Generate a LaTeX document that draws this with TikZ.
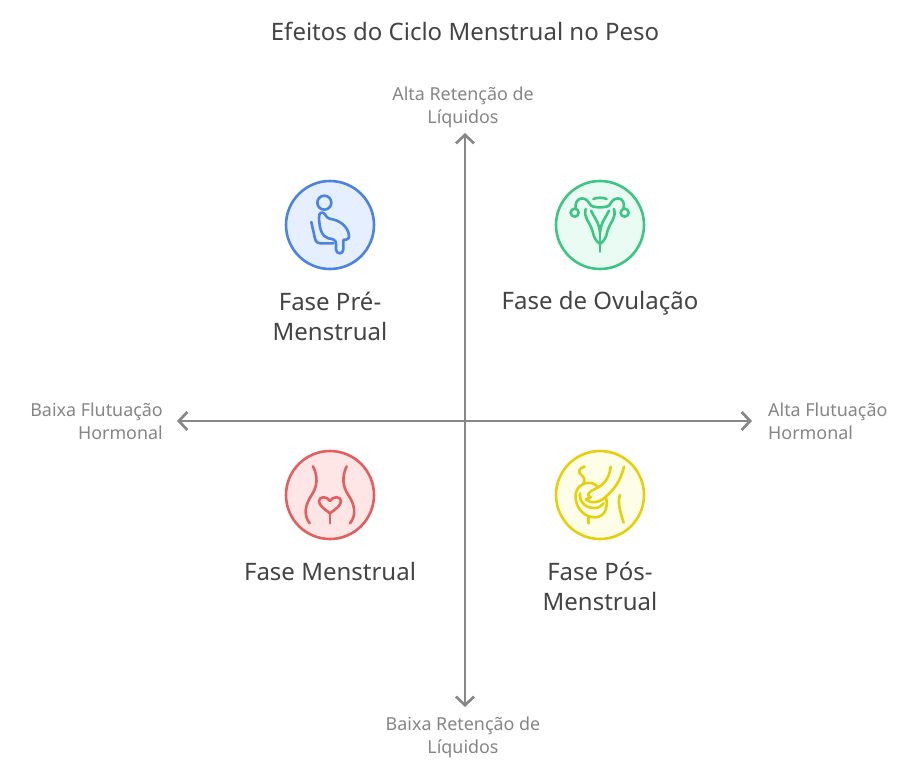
\documentclass[tikz,border=0pt]{standalone}
\usepackage{fontspec}
\setmainfont{Noto Sans}
\usetikzlibrary{arrows.meta}
\definecolor{axisc}{HTML}{888888}
\definecolor{axislab}{HTML}{868686}
\definecolor{textc}{HTML}{444444}
\definecolor{bluel}{HTML}{4A83E0}\definecolor{bluef}{HTML}{E5EFFF}
\definecolor{greenl}{HTML}{3CC583}\definecolor{greenf}{HTML}{E9FBF3}
\definecolor{redl}{HTML}{E35F5F}\definecolor{redf}{HTML}{FFE6E6}
\definecolor{yell}{HTML}{E6CF0B}\definecolor{yelf}{HTML}{FEFDE7}
\tikzset{
  axisline/.style={draw=axisc,line width=2.7pt,{Straight Barb[length=8.5pt,width=18pt,line width=2.7pt]}-{Straight Barb[length=8.5pt,width=18pt,line width=2.7pt]}},
  axislabel/.style={text=axislab,font=\fontsize{17.9}{23}\selectfont,align=center,inner sep=0pt},
  phase/.style={text=textc,font=\fontsize{24}{30}\selectfont,align=center,inner sep=0pt},
  titlelab/.style={text=textc,font=\fontsize{24}{28}\selectfont,inner sep=0pt},
  iconbg/.style={circle,minimum size=88pt,inner sep=0pt,line width=2.6pt},
  iconline/.style={line width=2.6pt,line cap=round,line join=round},
  zoomed/.style={shift={#1},x=0.3333pt,y=-0.3333pt}
}
\begin{document}
\begin{tikzpicture}[x=1pt,y=-1pt]
\useasboundingbox (0,0) rectangle (915,773);
\fill[white] (0,0) rectangle (915,773);
\node[titlelab] (title) at (465,31) {Efeitos do Ciclo Menstrual no Peso};
\coordinate (top) at (465,133);
\coordinate (bottom) at (465,707);
\coordinate (left) at (177,421);
\coordinate (right) at (752,421);
\draw[axisline] (bottom) -- (top);
\draw[axisline] (left) -- (right);
\node[axislabel] (ltop) at (463,107.5) {Alta Retenção de\\Líquidos};
\node[axislabel] (lbottom) at (463,737.5) {Baixa Retenção de\\Líquidos};
\node[axislabel,align=right,anchor=east] (lleft) at (163,421) {Baixa Flutuação\\Hormonal};
\node[axislabel,align=left,anchor=west] (lright) at (768,421) {Alta Flutuação\\Hormonal};

\node[iconbg,draw=bluel,fill=bluef] (ib) at (330,225) {};
\node[iconbg,draw=greenl,fill=greenf] (ig) at (600,225) {};
\node[iconbg,draw=redl,fill=redf] (ir) at (330,495) {};
\node[iconbg,draw=yell,fill=yelf] (iy) at (600,495) {};

\begin{scope}[zoomed={(270,170)},iconline,draw=bluel]
\draw (163,98) circle (21);
\draw (147,142) .. controls (146,126) and (160,122) .. (167,136) .. controls (172,148) and (185,146) .. (198,151) .. controls (222,160) and (238,180) .. (237,203) .. controls (236,210) and (226,208) .. (220,210) -- (220,238) .. controls (220,254) and (198,254) .. (198,238) -- (198,222) .. controls (198,210) and (190,207) .. (175,205) .. controls (155,200) and (148,175) .. (147,142) -- cycle;
\draw (124,156) -- (135,206) .. controls (138,218) and (145,220) .. (155,220) -- (190,220);
\end{scope}

\begin{scope}[zoomed={(540,170)},iconline,draw=greenl]
\draw (104,128) circle (12);
\draw (254,128) circle (12);
\draw (107,116) .. controls (103,80) and (135,78) .. (147,98) .. controls (152,110) and (162,112) .. (180,112) .. controls (198,112) and (208,110) .. (213,98) .. controls (225,78) and (257,80) .. (251,116);
\draw (160,87) .. controls (170,82) and (190,82) .. (200,87);
\draw (137,117) .. controls (130,145) and (150,155) .. (158,185) .. controls (162,205) and (170,215) .. (180,222) .. controls (190,215) and (198,205) .. (202,185) .. controls (210,155) and (230,145) .. (222,117);
\draw (153,122) .. controls (160,140) and (178,155) .. (180,190) .. controls (182,155) and (200,140) .. (207,122);
\draw (180,190) -- (180,245);
\end{scope}

\begin{scope}[zoomed={(270,440)},iconline,draw=redl]
\draw (129,79) .. controls (145,110) and (142,140) .. (125,165) .. controls (105,195) and (100,225) .. (119,250);
\draw (230,79) .. controls (215,110) and (218,140) .. (235,165) .. controls (255,195) and (260,225) .. (240,250);
\draw (180,220) .. controls (165,208) and (147,198) .. (147,183) .. controls (147,168) and (172,168) .. (180,183) .. controls (188,168) and (213,168) .. (213,183) .. controls (213,198) and (195,208) .. (180,220) -- cycle;
\draw (180,220) -- (180,250);
\end{scope}

\begin{scope}[zoomed={(540,440)},iconline,draw=yell]
\draw (134,80) .. controls (118,84) and (112,95) .. (122,103) .. controls (132,112) and (137,118) .. (130,132);
\draw (212,80) .. controls (208,115) and (192,135) .. (165,147) .. controls (150,153) and (135,165) .. (152,172) -- (138,178) .. controls (150,192) and (180,188) .. (195,172) .. controls (215,155) and (240,130) .. (252,80);
\draw (130,132) .. controls (112,140) and (105,155) .. (107,175) .. controls (110,208) and (135,232) .. (165,232) .. controls (192,232) and (206,205) .. (198,172);
\draw (130,132) .. controls (150,124) and (165,130) .. (172,140);
\draw (120,160) .. controls (118,185) and (135,205) .. (165,204) .. controls (175,204) and (185,198) .. (191,190);
\draw (145,232) -- (145,250);
\draw (240,165) .. controls (232,185) and (240,215) .. (251,248);
\end{scope}

\node[phase] (pb) at (330,316) {Fase Pré-\\Menstrual};
\node[phase] (pg) at (600,303) {Fase de Ovulação};
\node[phase] (pr) at (330,571) {Fase Menstrual};
\node[phase] (py) at (600,586) {Fase Pós-\\Menstrual};
\end{tikzpicture}
\end{document}
